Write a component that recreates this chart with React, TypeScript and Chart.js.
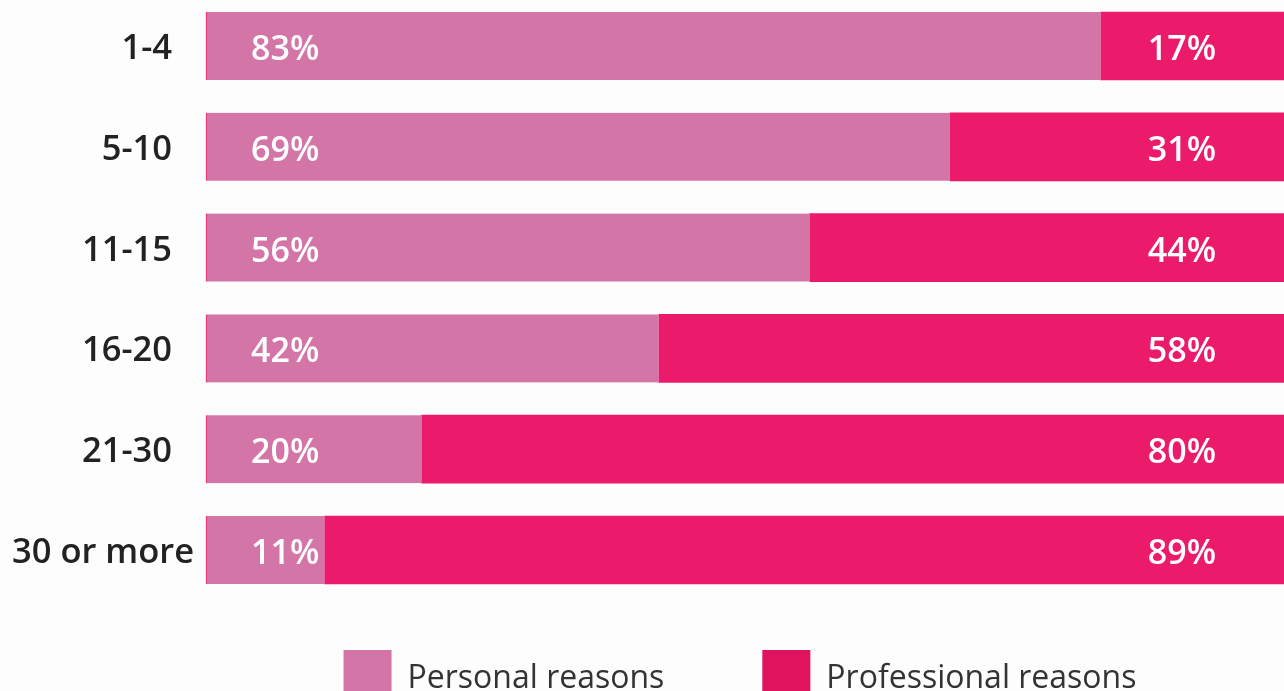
import React, { useEffect, useRef } from "react";
import { Chart, registerables } from "chart.js";

Chart.register(...registerables);

const categories = ["1-4", "5-10", "11-15", "16-20", "21-30", "30 or more"];
const personal = [83, 69, 56, 42, 20, 11];
const professional = [17, 31, 44, 58, 80, 89];
const seriesNames = ["Personal reasons", "Professional reasons"];
const barColors = ["#d475a8", "#ec1a6b"];
const legendColors = ["#d475a8", "#e0135f"];

const FONT = "'Open Sans', 'Noto Sans', sans-serif";

export default function App() {
  const ref = useRef<HTMLCanvasElement>(null);

  useEffect(() => {
    document.body.style.margin = "0";
    document.body.style.background = "#fdfdfd";
    const canvas = ref.current;
    if (!canvas) return;

    const bg = {
      id: "bg",
      beforeDraw(c: any) {
        const ctx = c.ctx;
        ctx.save();
        ctx.fillStyle = "#fdfdfd";
        ctx.fillRect(0, 0, c.width, c.height);
        ctx.restore();
      },
    };

    const overlay = {
      id: "overlay",
      afterDatasetsDraw(c: any) {
        const ctx = c.ctx;
        const ys = c.scales.y;
        const area = c.chartArea;
        ctx.save();
        ctx.textBaseline = "alphabetic";

        // category labels
        ctx.font = `600 34.5px ${FONT}`;
        ctx.fillStyle = "#222222";
        categories.forEach((cat, i) => {
          const yc = ys.getPixelForValue(i);
          const w = ctx.measureText(cat).width;
          const xr = area.left - 34;
          if (xr - w < 12) {
            ctx.textAlign = "left";
            ctx.fillText(cat, 12, yc + 13);
          } else {
            ctx.textAlign = "right";
            ctx.fillText(cat, xr, yc + 13);
          }
        });

        // value labels
        ctx.fillStyle = "#ffffff";
        ctx.font = `600 34px ${FONT}`;
        const m0 = c.getDatasetMeta(0);
        const m1 = c.getDatasetMeta(1);
        m0.data.forEach((bar: any, i: number) => {
          ctx.textAlign = "left";
          ctx.fillText(personal[i] + "%", area.left + 45, bar.y + 14);
        });
        m1.data.forEach((bar: any, i: number) => {
          ctx.textAlign = "right";
          ctx.fillText(professional[i] + "%", area.right - 68, bar.y + 14);
        });

        // legend
        ctx.font = `400 32px ${FONT}`;
        const box = 48;
        const gap = 16;
        const itemGap = 98;
        const items = seriesNames.map((n, i) => ({
          n,
          w: ctx.measureText(n).width,
          c: legendColors[i],
        }));
        const total =
          items.reduce((s, it) => s + box + gap + it.w, 0) + itemGap * (items.length - 1);
        let x = (area.left + area.right) / 2 - 5 - total / 2;
        items.forEach((it) => {
          ctx.fillStyle = it.c;
          ctx.fillRect(x, 650, box, box);
          ctx.fillStyle = "#333333";
          ctx.textAlign = "left";
          ctx.fillText(it.n, x + box + gap, 688);
          x += box + gap + it.w + itemGap;
        });

        ctx.restore();
      },
    };

    const chart = new Chart(canvas, {
      type: "bar",
      data: {
        labels: categories,
        datasets: [
          {
            label: seriesNames[0],
            data: personal,
            backgroundColor: barColors[0],
            borderColor: "#ec1a6b",
            borderWidth: { left: 1, right: 0, top: 0, bottom: 0 },
            borderSkipped: false,
            barThickness: 68,
            clip: false,
          },
          {
            label: seriesNames[1],
            data: professional,
            backgroundColor: barColors[1],
            borderWidth: 0,
            barThickness: 68,
            clip: false,
          },
        ],
      },
      options: {
        indexAxis: "y",
        animation: false,
        responsive: false,
        layout: { padding: { left: 206, right: 0, top: 46, bottom: 141 } },
        plugins: {
          legend: { display: false },
          tooltip: { enabled: false },
        },
        scales: {
          x: { stacked: true, min: 0, max: 100, display: false },
          y: { stacked: true, offset: false, display: false },
        },
      },
      plugins: [bg, overlay],
    });

    return () => chart.destroy();
  }, []);

  return (
    <div style={{ width: 1284, height: 691 }}>
      <canvas ref={ref} width={1284} height={691} style={{ display: "block" }} />
    </div>
  );
}
